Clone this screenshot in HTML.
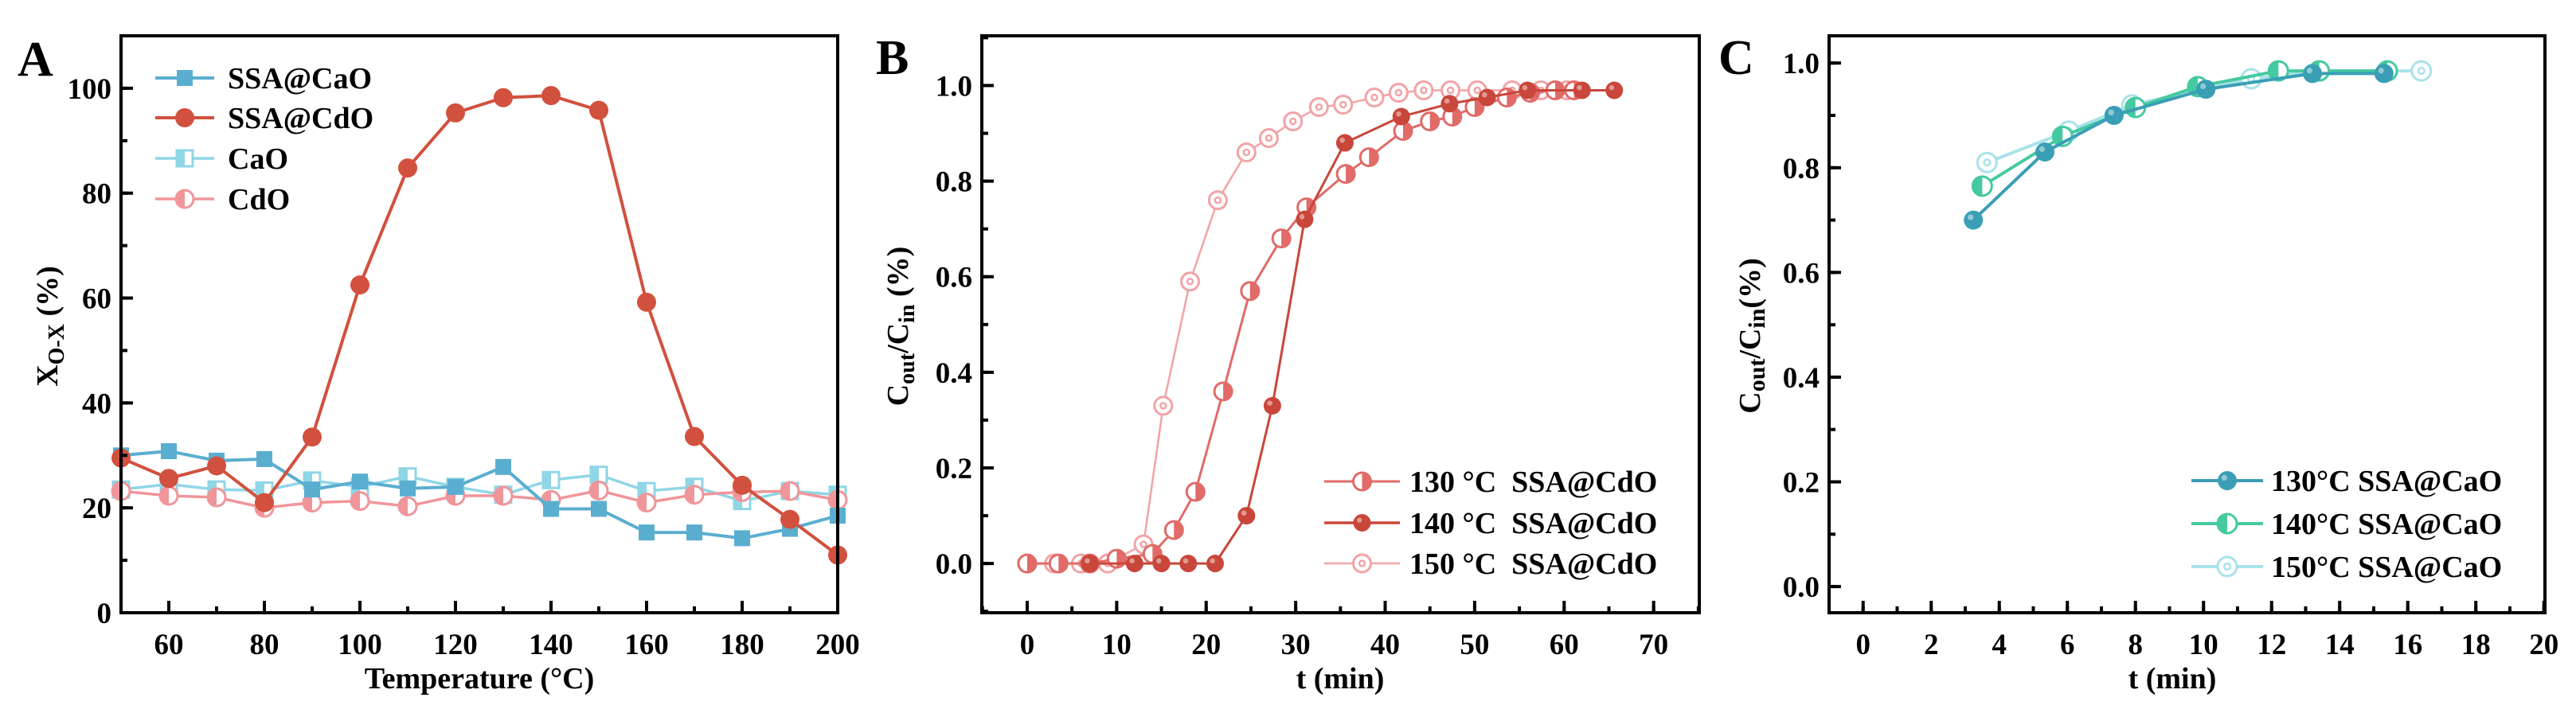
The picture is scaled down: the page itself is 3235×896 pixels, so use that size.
<!DOCTYPE html>
<html><head><meta charset="utf-8">
<style>
html,body{margin:0;padding:0;background:#fff;}
svg{display:block;font-family:"Liberation Serif",serif;}
</style></head>
<body>
<svg id="fig" width="3235" height="896" viewBox="0 0 3235 896" xmlns="http://www.w3.org/2000/svg">
<rect x="0" y="0" width="3235" height="896" fill="#fff"/>
</svg>
<script>
// ---------- Panel A data ----------
const aTemps = [50,60,70,80,90,100,110,120,130,140,150,160,170,180,190,200];
const aSSACaO = [30,30.8,29,29.3,23.5,25,23.7,24,27.8,19.8,19.8,15.3,15.3,14.2,16,18.5];
const aSSACdO = [29.5,25.6,28,21,33.5,62.5,84.8,95.3,98.2,98.6,95.8,59.2,33.6,24.3,17.8,11];
const aCaO = [23.5,24.5,23.5,23.3,25.2,24,26,24,22.5,25.3,26.3,23.2,24,21.3,23.2,22.5];
const aCdO = [23.2,22.3,22,20,21,21.3,20.3,22.3,22.3,21.5,23.3,21,22.5,23,23.2,21.5];
const aXTicks = [60,80,100,120,140,160,180,200];
const aYTicks = [0,20,40,60,80,100];

// ---------- Panel B data ----------
const b130x = [0,3.5,7,10,14,16.4,18.8,21.9,24.9,28.4,31.2,35.6,38.2,42,45,47.5,50,53.6,56.2,59,61.1];
const b130y = [0,0,0,0.01,0.02,0.07,0.15,0.36,0.57,0.68,0.745,0.815,0.85,0.905,0.925,0.935,0.955,0.975,0.985,0.99,0.99];
const b140x = [7,12,15,18,21,24.5,27.4,31,35.5,41.8,47.2,51.4,55.9,62,65.6];
const b140y = [0,0,0,0,0,0.1,0.33,0.72,0.88,0.935,0.962,0.975,0.99,0.99,0.99];
const b150x = [0,3,6,9,13,15.2,18.2,21.3,24.5,27,29.7,32.6,35.3,38.8,41.5,44.3,47.3,50.3,54.2,57.4,60.3];
const b150y = [0,0,0,0,0.04,0.33,0.59,0.76,0.86,0.89,0.925,0.955,0.96,0.975,0.985,0.99,0.99,0.99,0.99,0.99,0.99];
const bXTicks = [0,10,20,30,40,50,60,70];
const bYTicks = [0,0.2,0.4,0.6,0.8,1.0];

// ---------- Panel C data ----------
const c130x = [3.24,5.34,7.37,10.07,13.2,15.3];
const c130y = [0.70,0.83,0.90,0.95,0.98,0.98];
const c140x = [3.5,5.86,8.0,9.83,12.2,13.4,15.4];
const c140y = [0.765,0.86,0.915,0.955,0.985,0.985,0.985];
const c150x = [3.64,6.04,7.9,11.4,13.4,16.4];
const c150y = [0.81,0.87,0.92,0.97,0.985,0.985];
const cXTicks = [0,2,4,6,8,10,12,14,16,18,20];
const cYTicks = [0,0.2,0.4,0.6,0.8,1.0];

const NS = "http://www.w3.org/2000/svg";
const svg = document.getElementById('fig');
function mk(tag, attrs, parent){
  const e = document.createElementNS(NS, tag);
  for (const k in attrs) e.setAttribute(k, attrs[k]);
  (parent||svg).appendChild(e);
  return e;
}
function txt(s, attrs, parent){ const e = mk('text', attrs, parent); e.textContent = s; return e; }

function makeAxes(P){
  P.sx = v => P.x0 + (v - P.xmin)/(P.xmax - P.xmin)*(P.x1 - P.x0);
  P.sy = v => P.y1 - (v - P.ymin)/(P.ymax - P.ymin)*(P.y1 - P.y0);
}

function drawFrame(P, g, xTicks, yTicks, xMinorStep, yMinorStep, fmtY){
  for (let v = Math.ceil(P.xmin/xMinorStep)*xMinorStep; v <= P.xmax+1e-9; v += xMinorStep){
    const t = mk('line',{x1:P.sx(v),x2:P.sx(v),y1:P.y1,y2:P.y1-8,stroke:'#000','stroke-width':4},g);
    
    
  }
  for (let v = Math.ceil(P.ymin/yMinorStep)*yMinorStep; v <= P.ymax+1e-9; v += yMinorStep){
    const t = mk('line',{x1:P.x0,x2:P.x0+8,y1:P.sy(v),y2:P.sy(v),stroke:'#000','stroke-width':4},g);
    
    
  }
  xTicks.forEach(v=>{
    const t = mk('line',{x1:P.sx(v),x2:P.sx(v),y1:P.y1,y2:P.y1-15,stroke:'#000','stroke-width':4},g);
    
    
    const l = txt(String(v),{x:P.sx(v),y:P.y1+52,'font-size':37,'font-weight':'bold','text-anchor':'middle'},g);
    
    
  });
  yTicks.forEach(v=>{
    const t = mk('line',{x1:P.x0,x2:P.x0+15,y1:P.sy(v),y2:P.sy(v),stroke:'#000','stroke-width':4},g);
    
    
    const l = txt(fmtY(v),{x:P.x0-12,y:P.sy(v)+13,'font-size':37,'font-weight':'bold','text-anchor':'end'},g);
    
    
  });
  const f = mk('rect',{x:P.x0,y:P.y0,width:P.x1-P.x0,height:P.y1-P.y0,fill:'none',stroke:'#000','stroke-width':4},g);
  
  
}

function marker(type, cx, cy, r, col, g){
  const m = mk('g',{},g);
  
  
  if (type==='sq'){
    mk('rect',{x:cx-r,y:cy-r,width:2*r,height:2*r,fill:col},m);
  } else if (type==='halfsq'){
    mk('rect',{x:cx-r,y:cy-r,width:2*r,height:2*r,fill:'#fff',stroke:col,'stroke-width':3},m);
    mk('rect',{x:cx-r,y:cy-r,width:r,height:2*r,fill:col},m);
  } else if (type==='dot'){
    mk('circle',{cx:cx,cy:cy,r:r,fill:col},m);
  } else if (type==='halfc'){
    mk('circle',{cx:cx,cy:cy,r:r,fill:'#fff',stroke:col,'stroke-width':3},m);
    mk('path',{d:`M${cx},${cy-r} A${r},${r} 0 0 1 ${cx},${cy+r} Z`,fill:col},m);
  } else if (type==='halfcl'){
    mk('circle',{cx:cx,cy:cy,r:r,fill:'#fff',stroke:col,'stroke-width':3},m);
    mk('path',{d:`M${cx},${cy-r} A${r},${r} 0 0 0 ${cx},${cy+r} Z`,fill:col},m);
  } else if (type==='ball'){
    mk('circle',{cx:cx,cy:cy,r:r,fill:col},m);
    mk('circle',{cx:cx-r*0.3,cy:cy-r*0.3,r:r*0.3,fill:'#fff',opacity:0.45},m);
  } else if (type==='target'){
    mk('circle',{cx:cx,cy:cy,r:r,fill:'#fff',stroke:col,'stroke-width':3},m);
    mk('circle',{cx:cx,cy:cy,r:r*0.32,fill:'none',stroke:col,'stroke-width':2.5},m);
  }
}

function series(P, g, xs, ys, col, type, r, lw, name, dash){
  const sg = mk('g',{},g);
  
  
  const pts = xs.map((x,i)=>P.sx(x)+','+P.sy(ys[i])).join(' ');
  const pl = mk('polyline',{points:pts,fill:'none',stroke:col,'stroke-width':lw,'stroke-linejoin':'round'},sg);
  if (dash) pl.setAttribute('stroke-dasharray',dash);
  
  
  xs.forEach((x,i)=>marker(type,P.sx(x),P.sy(ys[i]),r,col,sg));
}

function legend(g, items, x1, x2, tx, ys, fs){
  items.forEach((it,i)=>{
    const lg = mk('g',{},g);
    
    
    mk('line',{x1:x1,x2:x2,y1:ys[i],y2:ys[i],stroke:it.col,'stroke-width':it.lw},lg);
    marker(it.type,(x1+x2)/2,ys[i],it.r,it.col,lg);
    txt(it.label,{x:tx,y:ys[i]+13,'font-size':fs,'font-weight':'bold'},lg);
  });
}

const BLUE='#5aaed0', RED='#d2503e', CYAN='#8fd6e6', PINK='#f0959a';

// ---------- Panel A ----------
const A = {x0:152,x1:1052,y0:45,y1:770,xmin:50,xmax:200,ymin:0,ymax:110};
makeAxes(A);
const gA = mk('g',{});  
series(A,gA,aTemps,aCaO,CYAN,'halfsq',10,3.5,'series-cao');
series(A,gA,aTemps,aCdO,PINK,'halfcl',11,3.5,'series-cdo');
series(A,gA,aTemps,aSSACaO,BLUE,'sq',10,4,'series-ssa-cao');
series(A,gA,aTemps,aSSACdO,RED,'dot',12,4,'series-ssa-cdo');
drawFrame(A,gA,aXTicks,aYTicks,10,10,v=>String(v));
legend(gA,[
  {label:'SSA@CaO',col:BLUE,type:'sq',r:10,lw:4},
  {label:'SSA@CdO',col:RED,type:'dot',r:12,lw:4},
  {label:'CaO',col:CYAN,type:'halfsq',r:10,lw:3.5},
  {label:'CdO',col:PINK,type:'halfcl',r:11,lw:3.5}
],195,269,286,[98,148,199,250],38);
txt('A',{x:22,y:95,'font-size':62,'font-weight':'bold',},gA);
txt('Temperature (°C)',{x:602,y:865,'font-size':38,'font-weight':'bold','text-anchor':'middle',},gA);
const yA = txt('',{transform:'translate(72,410) rotate(-90)','font-size':38,'font-weight':'bold','text-anchor':'middle',},gA);
yA.innerHTML = 'X<tspan font-size="28" dy="8">O-X</tspan><tspan dy="-8"> (%)</tspan>';

// ---------- Panel B ----------
const B = {x0:1233,x1:2134,y0:45,y1:770,xmin:-5.07,xmax:75.1,ymin:-0.103,ymax:1.104};
makeAxes(B);
const gB = mk('g',{});  
const R130='#e06b68', R140='#c9463a', R150='#f2a3a6';
series(B,gB,b150x,b150y,R150,'target',11,2.5,'series-150c-ssa-cdo');
series(B,gB,b130x,b130y,R130,'halfc',11,3,'series-130c-ssa-cdo');
series(B,gB,b140x,b140y,R140,'ball',11,3,'series-140c-ssa-cdo');
drawFrame(B,gB,bXTicks,bYTicks,5,0.1,v=>v.toFixed(1));
legend(gB,[
  {label:'130 °C \u00a0SSA@CdO',col:R130,type:'halfc',r:11,lw:3},
  {label:'140 °C \u00a0SSA@CdO',col:R140,type:'ball',r:11,lw:3.5},
  {label:'150 °C \u00a0SSA@CdO',col:R150,type:'target',r:11,lw:2.5}
],1663,1758,1770,[605,657,708],38);
txt('B',{x:1100,y:93,'font-size':62,'font-weight':'bold',},gB);
txt('t (min)',{x:1683,y:865,'font-size':38,'font-weight':'bold','text-anchor':'middle',},gB);
const yB = txt('',{transform:'translate(1140,410) rotate(-90)','font-size':38,'font-weight':'bold','text-anchor':'middle',},gB);
yB.innerHTML = 'C<tspan font-size="28" dy="8">out</tspan><tspan dy="-8">/C</tspan><tspan font-size="28" dy="8">in</tspan><tspan dy="-8"> (%)</tspan>';

// ---------- Panel C ----------
const C = {x0:2297,x1:3196,y0:45,y1:770,xmin:-1.0,xmax:20.03,ymin:-0.05,ymax:1.052};
makeAxes(C);
const gC = mk('g',{});  
const T130='#3a9fb5', T140='#45c9a0', T150='#a9e2ea';
series(C,gC,c150x,c150y,T150,'target',12,4,'series-150c-ssa-cao');
series(C,gC,c140x,c140y,T140,'halfcl',12,4,'series-140c-ssa-cao');
series(C,gC,c130x,c130y,T130,'ball',12,4,'series-130c-ssa-cao');
drawFrame(C,gC,cXTicks,cYTicks,1,0.1,v=>v.toFixed(1));
legend(gC,[
  {label:'130°C SSA@CaO',col:T130,type:'ball',r:12,lw:4},
  {label:'140°C SSA@CaO',col:T140,type:'halfcl',r:12,lw:4},
  {label:'150°C SSA@CaO',col:T150,type:'target',r:12,lw:4}
],2752,2842,2852,[604,658,712],38);
txt('C',{x:2158,y:93,'font-size':62,'font-weight':'bold',},gC);
txt('t (min)',{x:2728,y:865,'font-size':38,'font-weight':'bold','text-anchor':'middle',},gC);
const yC = txt('',{transform:'translate(2210,422) rotate(-90)','font-size':38,'font-weight':'bold','text-anchor':'middle',},gC);
yC.innerHTML = 'C<tspan font-size="30" dy="6">out</tspan><tspan dy="-6">/C</tspan><tspan font-size="30" dy="6">in</tspan><tspan dy="-6">(%)</tspan>';
</script>
</body></html>
